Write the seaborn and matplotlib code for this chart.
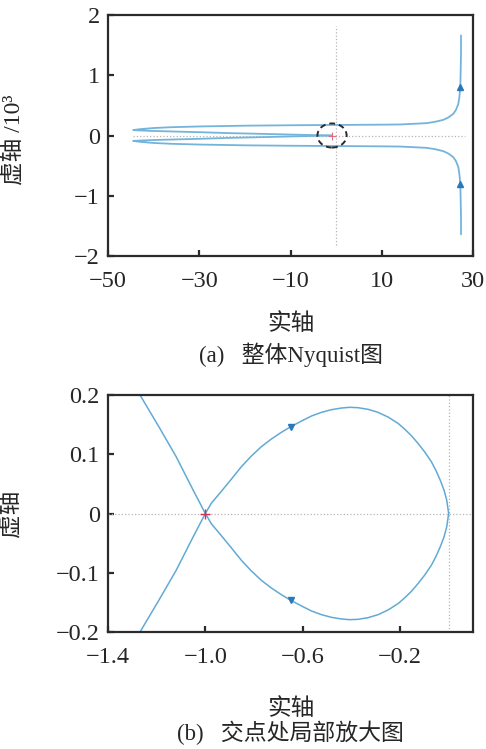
import matplotlib
matplotlib.use("Agg")
import matplotlib.pyplot as plt
from matplotlib.patches import Ellipse
import seaborn as sns
import pandas as pd

# ---------------- data ----------------
# (a) whole Nyquist plot, imaginary part in units of 10^3
top_upper_x = [27.37, 27.37, 27.30, 27.22, 27.01, 26.79, 26.27, 25.69, 24.59, 23.50,
               21.67, 19.85, 16.92, 14.0, 10.0, 0.0, -10.0, -20.0, -30.0, -36.0,
               -40.0, -43.0, -44.5, -43.0, -40.0, -30.0, -23.7, -15.0, -8.0, -4.0, -1.0]
top_upper_y = [1.661, 1.357, 1.080, 0.803, 0.637, 0.526, 0.426, 0.360, 0.299, 0.260,
               0.227, 0.205, 0.194, 0.183, 0.180, 0.175, 0.170, 0.163, 0.150, 0.138,
               0.124, 0.105, 0.090, 0.084, 0.075, 0.055, 0.040, 0.025, 0.012, 0.005, 0.0]
top_lower_x = [27.37, 27.37, 27.30, 27.22, 27.01, 26.79, 26.27, 25.69, 24.59, 23.50,
               21.67, 19.85, 16.92, 14.0, 10.0, 0.0, -10.0, -20.0, -30.0, -36.0,
               -40.0, -43.0, -44.5, -43.0, -40.0, -30.0, -23.7, -15.0, -8.0, -4.0, -1.0]
top_lower_y = [-1.640, -1.357, -1.080, -0.803, -0.637, -0.526, -0.426, -0.360, -0.299, -0.260,
               -0.227, -0.205, -0.194, -0.183, -0.180, -0.175, -0.170, -0.163, -0.150, -0.138,
               -0.124, -0.105, -0.090, -0.084, -0.075, -0.055, -0.040, -0.025, -0.012, -0.005, 0.0]
top_arrows_x = [27.22, 27.22]
top_arrows_y = [0.803, -0.803]
top_xticks = [-50, -30, -10, 10, 30]
top_yticks = [-2, -1, 0, 1, 2]

# (b) zoom near the crossing point
zoom_a_x = [-1.2685, -1.189, -1.120, -1.052, -1.0, -0.975, -0.934, -0.893, -0.852,
            -0.811, -0.770, -0.729, -0.688, -0.649, -0.605, -0.564, -0.523, -0.482,
            -0.441, -0.407, -0.373, -0.331, -0.290, -0.249, -0.208, -0.181, -0.153,
            -0.126, -0.099, -0.071, -0.051, -0.033, -0.019, -0.008, -0.003, 0.0]
zoom_a_y = [0.2, 0.145, 0.096, 0.041, 0.0, -0.0175, -0.0375, -0.058, -0.0789,
            -0.0969, -0.1127, -0.1256, -0.1369, -0.1465, -0.156, -0.1645, -0.1707, -0.1752,
            -0.178, -0.1792, -0.1786, -0.1758, -0.1707, -0.1628, -0.1521, -0.1425, -0.1313,
            -0.1183, -0.1042, -0.0873, -0.0715, -0.0546, -0.0394, -0.0225, -0.0084, 0.0]
zoom_b_x = [-1.2685, -1.189, -1.120, -1.052, -1.0, -0.975, -0.934, -0.893, -0.852,
            -0.811, -0.770, -0.729, -0.688, -0.649, -0.605, -0.564, -0.523, -0.482,
            -0.441, -0.407, -0.373, -0.331, -0.290, -0.249, -0.208, -0.181, -0.153,
            -0.126, -0.099, -0.071, -0.051, -0.033, -0.019, -0.008, -0.003, 0.0]
zoom_b_y = [-0.2, -0.145, -0.096, -0.041, 0.0, 0.0175, 0.0375, 0.058, 0.0789,
            0.0969, 0.1127, 0.1256, 0.1369, 0.1465, 0.156, 0.1645, 0.1707, 0.1752,
            0.178, 0.1792, 0.1786, 0.1758, 0.1707, 0.1628, 0.1521, 0.1425, 0.1313,
            0.1183, 0.1042, 0.0873, 0.0715, 0.0546, 0.0394, 0.0225, 0.0084, 0.0]
zoom_arrows_x = [-0.649, -0.649]
zoom_arrows_y = [0.1465, -0.1465]
zoom_xticks = [-1.4, -1.0, -0.6, -0.2]
zoom_xticklabels = ["\u22121.4", "\u22121.0", "\u22120.6", "\u22120.2"]
zoom_yticks = [-0.2, -0.1, 0, 0.1, 0.2]
zoom_yticklabels = ["\u22120.2", "\u22120.1", "0", "0.1", "0.2"]

critical_x = [-1.0]
critical_y = [0.0]

# ---------------- style ----------------
sns.set_style("white")
plt.rcParams["font.family"] = ["Liberation Serif", "Noto Sans CJK SC"]
plt.rcParams["axes.unicode_minus"] = True

LINE = "#62aad6"
LINE_TOP = "#74b4dc"
ARROW = "#2a78b8"
GRID = "#b5b5b5"
RED = "#d8304a"
FS_TICK = 17.5
FS_LAB = 17
FS_CAP = 16.5

fig = plt.figure(figsize=(4.86, 7.49), dpi=100)
ax1 = fig.add_axes([108 / 486, (749 - 256) / 749, 365 / 486, 241 / 749])
ax2 = fig.add_axes([108 / 486, (749 - 632) / 749, 365 / 486, 237 / 749])

def style_axes(ax):
    for s in ax.spines.values():
        s.set_linewidth(1.6)
        s.set_color("#2b2b2b")
        s.set_visible(True)
    ax.tick_params(axis="both", which="both", direction="in", length=4, width=1.6,
                   color="#2b2b2b", labelsize=FS_TICK, top=False, right=False,
                   bottom=True, left=True)
    ax.tick_params(axis="x", pad=11)
    ax.tick_params(axis="y", pad=6)
    ax.set_facecolor("white")

# ---------------- (a) ----------------
ax1.hlines(0, min(top_upper_x), max(top_upper_x) + 0.8, colors=GRID,
           linestyles=":", linewidth=0.9, zorder=1)
ax1.vlines(0, min(top_lower_y) * 1.11, max(top_upper_y) * 1.09, colors=GRID,
           linestyles=":", linewidth=0.9, zorder=1)
for xs, ys in [(top_upper_x, top_upper_y), (top_lower_x, top_lower_y)]:
    df = pd.DataFrame({"x": xs, "y": ys})
    sns.lineplot(data=df, x="x", y="y", sort=False, estimator=None, ax=ax1,
                 color=LINE_TOP, linewidth=1.3, zorder=2)
ax1.plot(top_arrows_x, top_arrows_y, marker="^", ms=4.5, color=ARROW,
         ls="none", zorder=3)
ax1.plot(critical_x, critical_y, marker="+", ms=6, mew=0.8, color="#e07080",
         ls="none", zorder=3)
ax1.add_patch(Ellipse((-0.9, 0.0), 6.4, 0.40, fill=False, ec="#2b2b2b",
                      lw=1.4, ls=(0, (3, 2)), zorder=4))
ax1.set_xlim(-50, 30)
ax1.set_ylim(-2, 2)
ax1.set_xticks(top_xticks)
ax1.set_xticklabels([("\u2212" + str(-t)) if t < 0 else str(t) for t in top_xticks])
ax1.set_yticks(top_yticks)
ax1.set_yticklabels([("\u2212" + str(-t)) if t < 0 else str(t) for t in top_yticks])
style_axes(ax1)
ax1.set_xlabel("实轴", fontsize=FS_LAB)
ax1.xaxis.set_label_coords(0.5, -0.237)
ax1.set_ylabel("虚轴 /10\u00b3", fontsize=FS_LAB)
ax1.yaxis.set_label_coords(-0.227, 0.483)
fig.text(0.598, 1 - 355 / 749, "(a)   整体Nyquist图", ha="center", va="center",
         fontsize=FS_CAP)

# ---------------- (b) ----------------
ax2.axhline(0, color=GRID, ls=":", lw=0.9, zorder=1)
ax2.axvline(0, color=GRID, ls=":", lw=0.9, zorder=1)
for xs, ys in [(zoom_a_x, zoom_a_y), (zoom_b_x, zoom_b_y)]:
    df = pd.DataFrame({"x": xs, "y": ys})
    sns.lineplot(data=df, x="x", y="y", sort=False, estimator=None, ax=ax2,
                 color=LINE, linewidth=1.1, zorder=2)
ax2.plot(zoom_arrows_x, zoom_arrows_y, marker="v", ms=4.5, color=ARROW,
         ls="none", zorder=3)
ax2.plot(critical_x, critical_y, marker="+", ms=7, mew=1.0, color=RED,
         ls="none", zorder=3)
ax2.set_xlim(-1.4, 0.1)
ax2.set_ylim(-0.2, 0.2)
ax2.set_xticks(zoom_xticks)
ax2.set_xticklabels(zoom_xticklabels)
ax2.set_yticks(zoom_yticks)
ax2.set_yticklabels(zoom_yticklabels)
style_axes(ax2)
ax2.set_xlabel("实轴", fontsize=FS_LAB)
ax2.xaxis.set_label_coords(0.5, -0.278)
ax2.set_ylabel("虚轴", fontsize=FS_LAB)
ax2.yaxis.set_label_coords(-0.233, 0.502)
fig.text(0.598, 1 - 733 / 749, "(b)   交点处局部放大图", ha="center", va="center",
         fontsize=FS_CAP)

fig.savefig("out.png", dpi=100, facecolor="white")
